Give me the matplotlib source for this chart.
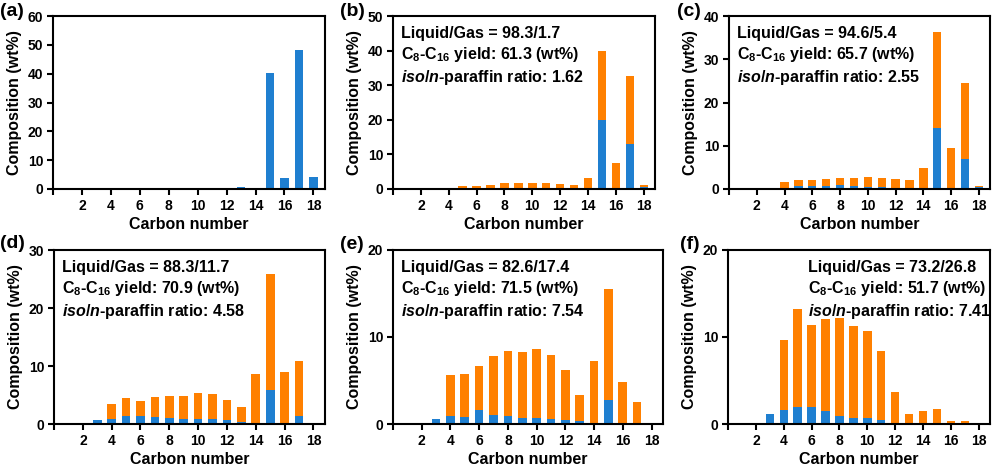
import numpy as np
import matplotlib
matplotlib.use("Agg")
import matplotlib.pyplot as plt

plt.rcParams["font.family"] = ["Liberation Sans", "DejaVu Sans"]
plt.rcParams["font.weight"] = "bold"
plt.rcParams["mathtext.fontset"] = "custom"
plt.rcParams["mathtext.rm"] = "Liberation Sans:bold"
plt.rcParams["mathtext.it"] = "Liberation Sans:bold:italic"
plt.rcParams["mathtext.default"] = "rm"

carbon = np.arange(1, 19)

# n-paraffin (blue) and iso-paraffin (orange), wt%, C1..C18
n_a = [0, 0, 0, 0, 0, 0, 0, 0, 0, 0, 0, 0, 0.8, 0, 40.3, 3.8, 48.2, 4.2]
iso_a = [0] * 18

n_b = [0, 0, 0, 0.1, 0.3, 0.3, 0.3, 0.3, 0.3, 0.2, 0.2, 0.1, 0.1, 0.0, 19.9, 0, 12.9, 0.6]
iso_b = [0, 0, 0, 0.2, 0.5, 0.6, 1.0, 1.4, 1.5, 1.6, 1.6, 1.4, 1.2, 3.1, 19.9, 7.4, 19.8, 0.7]

n_c = [0, 0, 0.1, 0.3, 0.7, 0.8, 0.6, 0.9, 0.7, 0.5, 0.4, 0.3, 0.2, 0.0, 14.1, 0, 6.9, 0.4]
iso_c = [0, 0, 0.1, 1.3, 1.4, 1.2, 1.7, 1.7, 1.9, 2.2, 2.2, 2.0, 1.8, 4.9, 22.1, 9.4, 17.6, 0.4]

n_d = [0, 0, 0.7, 0.9, 1.4, 1.4, 1.2, 1.0, 0.9, 0.9, 0.9, 0.7, 0.3, 0.2, 5.8, 0, 1.4, 0]
iso_d = [0, 0, 0, 2.6, 3.0, 2.6, 3.4, 3.8, 3.9, 4.4, 4.3, 3.5, 2.7, 8.4, 20.1, 9.0, 9.5, 0]

n_e = [0, 0, 0.6, 0.9, 0.8, 1.6, 1.0, 0.9, 0.7, 0.7, 0.6, 0.5, 0.3, 0.1, 2.8, 0, 0, 0]
iso_e = [0, 0, 0, 4.7, 5.0, 5.1, 6.8, 7.5, 7.6, 7.9, 7.3, 5.7, 3.0, 7.1, 12.7, 4.8, 2.5, 0]

n_f = [0, 0, 1.2, 1.6, 1.9, 2.0, 1.5, 0.9, 0.7, 0.7, 0.5, 0.1, 0, 0, 0, 0, 0, 0]
iso_f = [0, 0, 0, 8.1, 11.3, 9.4, 10.6, 11.3, 10.6, 10.0, 7.9, 3.6, 1.2, 1.5, 1.7, 0.4, 0.3, 0]

labels = ["(a)", "(b)", "(c)", "(d)", "(e)", "(f)"]
ymax = [60, 50, 40, 30, 20, 20]
notes = [
    None,
    ("98.3/1.7", "61.3", "1.62"),
    ("94.6/5.4", "65.7", "2.55"),
    ("88.3/11.7", "70.9", "4.58"),
    ("82.6/17.4", "71.5", "7.54"),
    ("73.2/26.8", "51.7", "7.41"),
]
series = [(n_a, iso_a), (n_b, iso_b), (n_c, iso_c), (n_d, iso_d), (n_e, iso_e), (n_f, iso_f)]

BLUE = "#1f7fd0"
ORANGE = "#ff8000"

W, H = 1004, 466
# axes boxes in pixels: left, right, top, bottom
boxes = [
    (53, 325, 16, 189), (393, 655, 16, 189), (729, 990, 16, 189),
    (54, 325, 250, 424), (393, 663, 250, 424), (728, 990, 250, 424),
]
label_pos = [(0, 12), (340, 12), (677, 12), (0, 243), (340, 245), (680, 245)]
note_x = [0.03, 0.03, 0.03, 0.03, 0.03, 0.305]

fig = plt.figure(figsize=(W / 100, H / 100), dpi=100)

for i in range(6):
    l, r, t, b = boxes[i]
    ax = fig.add_axes([l / W, (H - b) / H, (r - l) / W, (b - t) / H])
    n_vals, iso_vals = series[i]
    ax.bar(carbon, n_vals, width=0.6, color=BLUE, linewidth=0)
    ax.bar(carbon, iso_vals, width=0.6, bottom=n_vals, color=ORANGE, linewidth=0)

    ax.set_xlim(0, 18.8)
    ax.set_ylim(0, ymax[i])
    ax.set_xticks(np.arange(0, 19, 2))
    ax.set_xticklabels([""] + [str(v) for v in range(2, 19, 2)])
    ax.set_yticks(np.arange(0, ymax[i] + 1, 10))
    ax.tick_params(direction="out", length=4, width=1.5, labelsize=10, pad=3)
    for s in ax.spines.values():
        s.set_linewidth(1.5)
    ax.set_xlabel("Carbon number", fontsize=11.5, fontweight="bold", labelpad=3)
    ax.set_ylabel("Composition (wt%)", fontsize=11.5, fontweight="bold", labelpad=4)

    if notes[i] is not None:
        lg, yld, ratio = notes[i]
        txt = ("Liquid/Gas = " + lg + "\n"
               "C$_8$-C$_{16}$ yield: " + yld + " (wt%)\n"
               "$\\it{iso}$/$\\it{n}$-paraffin ratio: " + ratio)
        ax.text(note_x[i], 0.945, txt, transform=ax.transAxes, ha="left", va="top",
                fontsize=11.5, fontweight="bold", linespacing=1.3)

    lx, ly = label_pos[i]
    fig.text(lx / W, 1 - ly / H, labels[i], ha="left", va="center",
             fontsize=14, fontweight="bold")

fig.savefig("out.png", dpi=100)
